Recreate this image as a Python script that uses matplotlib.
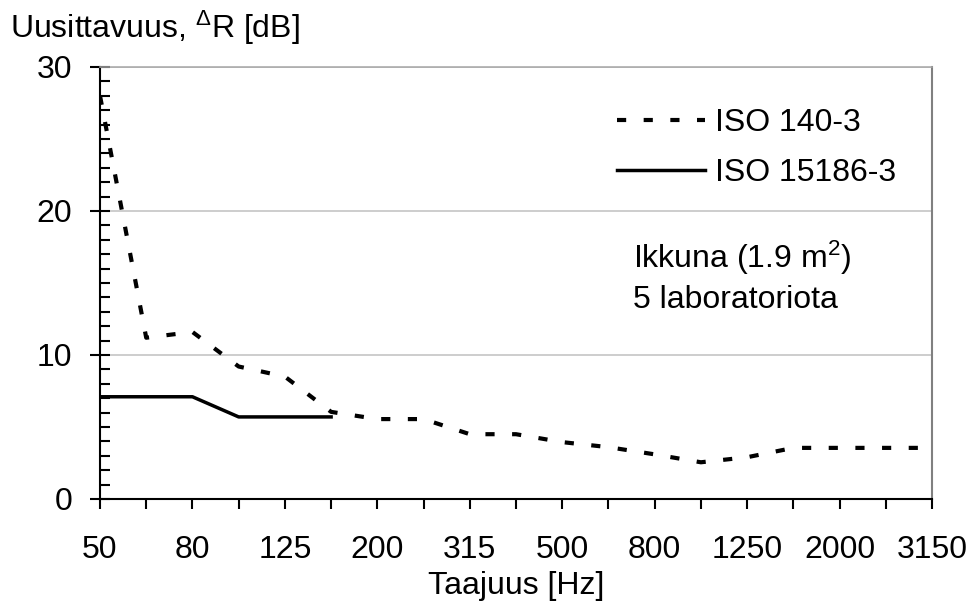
import matplotlib
matplotlib.use("Agg")
import matplotlib.pyplot as plt
import numpy as np

# Data
bands = ['50', '63', '80', '100', '125', '160', '200', '250', '315', '400',
         '500', '630', '800', '1000', '1250', '1600', '2000', '2500', '3150']
iso_140 = [28.0, 11.2, 11.6, 9.2, 8.5, 6.05, 5.55, 5.55, 4.5, 4.5,
           3.95, 3.6, 3.1, 2.55, 2.9, 3.55, 3.55, 3.55, 3.55]
iso_15186 = [7.1, 7.1, 7.1, 5.7, 5.7, 5.7]

plt.rcParams['font.family'] = ['Liberation Sans', 'DejaVu Sans']
plt.rcParams['mathtext.fontset'] = 'custom'
plt.rcParams['mathtext.rm'] = 'Liberation Sans'
plt.rcParams['mathtext.it'] = 'Liberation Sans'
fs = 23

fig = plt.figure(figsize=(9.7, 6.04), dpi=100)
ax = fig.add_axes([100 / 970, 1 - 499 / 604, 832 / 970, 432 / 604])

x = np.arange(len(bands))
ax.plot(x, iso_140, color='black', lw=3, linestyle=(0, (2.2, 4.2)),
        label='ISO 140-3')
ax.plot(x[:len(iso_15186)], iso_15186, color='black', lw=2.5,
        label='ISO 15186-3')

ax.set_xlim(0, len(bands) - 1)
ax.set_ylim(0, 30)
ax.set_yticks([0, 10, 20, 30])
ax.set_yticks(np.arange(0, 31, 1), minor=True)
ax.set_xticks(x)
ax.set_xticklabels([b if i % 2 == 0 else '' for i, b in enumerate(bands)])

ax.grid(axis='y', color='#c0c0c0', lw=1.1)
ax.set_axisbelow(True)

for s in ['left', 'bottom']:
    ax.spines[s].set_linewidth(1.5)
    ax.spines[s].set_color('black')
ax.spines['top'].set_color('#a6a6a6')
ax.spines['top'].set_linewidth(1.1)
ax.spines['right'].set_color('#808080')
ax.spines['right'].set_linewidth(1.5)

ax.tick_params(axis='y', which='major', direction='inout', length=14,
               width=1.5, pad=13, labelsize=fs)
ax.tick_params(axis='y', which='minor', direction='in', length=7, width=1.5)
ax.tick_params(axis='x', which='major', direction='out', length=7,
               width=1.5, pad=19, labelsize=fs)

ax.set_xlabel('Taajuus [Hz]', fontsize=fs, labelpad=4)

fig.text(10 / 970, 1 - 38 / 604, r'Uusittavuus, $^{\Delta}$R [dB]',
         fontsize=fs, va='baseline', ha='left')

ax.legend(loc='upper left', bbox_to_anchor=(616.7 / 970, 1 - 108 / 604),
          bbox_transform=fig.transFigure, frameon=False, fontsize=fs,
          handlelength=2.75, handletextpad=0.34, labelspacing=0.62,
          borderpad=0, borderaxespad=0)

fig.text(633 / 970, 1 - 268 / 604, r'Ikkuna (1.9 m$^2$)', fontsize=fs,
         va='baseline', ha='left')
fig.text(633 / 970, 1 - 308 / 604, '5 laboratoriota', fontsize=fs,
         va='baseline', ha='left')

fig.savefig('out.png', dpi=100)
